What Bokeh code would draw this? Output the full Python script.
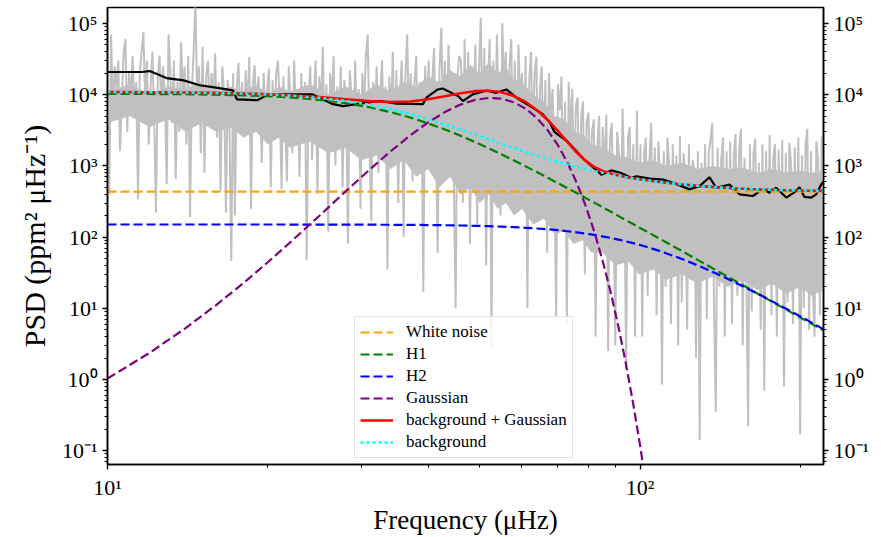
import numpy as np
from bokeh.plotting import figure
from bokeh.models import Range1d, LogAxis, FixedTicker, CustomJSTickFormatter
from bokeh.embed import file_html
from bokeh.resources import INLINE

# ---------------- data ----------------
model_freq = [10, 12, 14, 16, 18, 20, 22, 25, 28, 31, 34, 37, 40, 43, 46, 49, 52, 55, 58, 61,
              64, 67, 70, 73, 76, 79, 82, 85, 88, 91, 94, 97, 100, 103, 110, 120, 130, 140, 150,
              160, 170, 180, 190, 200, 210, 221]
white_level = 435.0
h1_psd = [10251, 10195, 10102, 9958, 9751, 9470, 9109, 8416, 7571, 6634, 5677, 4764, 3943, 3235,
          2642, 2155, 1761, 1443, 1187, 982, 817, 683, 575, 487, 414, 354, 304, 263, 228, 198,
          173, 152, 134, 119, 90.4, 63.3, 45.1, 33.1, 24.8, 18.9, 14.6, 11.5, 9.18, 7.40, 6.03, 4.87]
h2_psd = [150.0, 150.0, 150.0, 149.9, 149.9, 149.9, 149.8, 149.6, 149.4, 149.1, 148.6, 148.1, 147.3,
          146.3, 145.2, 143.7, 142.0, 139.9, 137.5, 134.8, 131.8, 128.4, 124.7, 120.6, 116.3, 111.8,
          107.1, 102.2, 97.2, 92.1, 87.1, 82.1, 77.2, 72.5, 62.0, 49.0, 38.4, 30.0, 23.5, 18.5, 14.7,
          11.7, 9.45, 7.67, 6.28, 5.08]
gauss_psd = [1.03, 2.37, 5.23, 11.1, 22.6, 44.3, 83.3, 199, 437, 873, 1596, 2665, 4068, 5676, 7238,
             8434, 8984, 8745, 7778, 6323, 4698, 3191, 1980, 1123, 582, 276, 120, 47.3, 17.1, 5.65,
             1.71, 0.47, 0.119, 0.027]

black_freq = [10.0, 11.6, 12.0, 12.9, 13.9, 14.9, 16.1, 17.2, 17.5, 19.1,
              19.9, 21.4, 24.3, 26.5, 27.7, 30.2, 32.5, 34.9, 39.1, 39.7,
              41.7, 42.6, 45.5, 46.5, 48.5, 51.5, 53.7, 56.1, 58.6, 62.0,
              65.6, 67.7, 69.1, 73.2, 78.7, 84.6, 88.3, 92.2, 96.3, 98.4,
              104.2, 110.4, 115.2, 123.8, 129.3, 135.0, 139.0, 147.2, 153.7, 162.8,
              170.0, 175.0, 180.1, 188.1, 196.4, 199.2, 203.5, 209.5, 214.1, 218.8,
              221.0]
black_psd = [20750, 20750, 21400, 17060, 15850, 13520, 12410, 11430, 8590, 8320,
             9750, 10070, 10070, 7330, 6870, 7570, 8130, 7470, 7330, 9040,
             11800, 12180, 9530, 8130, 10070, 11430, 10590, 11800, 9040, 6930,
             5330, 4040, 2970, 2160, 1210, 752, 861, 793, 676, 711,
             662, 641, 577, 467, 518, 690, 492, 547, 398, 377,
             467, 420, 492, 358, 442, 502, 366, 358, 398, 547,
             600]

# dense (solid-looking) core of the raw spectrum: lower and upper edge
core_freq = [10, 11, 12, 13, 14, 15, 16, 17, 18, 19, 20, 21, 22, 24, 26, 28, 30, 32, 34, 36,
             38, 40, 42, 44, 46, 48, 50, 52, 54, 56, 58, 60, 63, 66, 69, 72, 75, 78, 81, 85,
             90, 95, 100, 106, 112, 120, 128, 137, 146, 156, 166, 177, 188, 200, 210, 221]
core_low = [4e3, 5e3, 3.5e3, 4.5e3, 3e3, 4e3, 3e3, 3.5e3, 2.5e3, 3e3, 2e3, 2.5e3, 1.8e3, 2.2e3,
            1.5e3, 1.8e3, 1.2e3, 1.4e3, 9e2, 1.2e3, 7e2, 9e2, 5e2, 7e2, 4e2, 5e2, 3e2, 4e2, 2.5e2,
            3e2, 2e2, 2.5e2, 1.5e2, 1.8e2, 1.1e2, 1.2e2, 80, 90, 60, 60, 40, 45, 30, 35, 25, 30, 22,
            28, 20, 25, 18, 22, 16, 20, 15, 18]
core_high = [1.1e4, 1.4e4, 1e4, 1.3e4, 1.2e4, 1.5e4, 1e4, 1.3e4, 1.1e4, 1.4e4, 1e4, 1.3e4, 1.1e4,
             1.4e4, 1e4, 1.3e4, 1e4, 1.4e4, 1.1e4, 1.5e4, 1.3e4, 1.8e4, 1.5e4, 2.2e4, 1.8e4, 2.6e4,
             2e4, 2.8e4, 2e4, 2.4e4, 1.6e4, 1.5e4, 1e4, 8e3, 5e3, 4.5e3, 3e3, 2.8e3, 2e3, 1.8e3,
             1.4e3, 1.3e3, 1.1e3, 1.2e3, 1e3, 1.1e3, 9e2, 1e3, 9e2, 9.5e2, 8e2, 9e2, 8e2, 8.5e2,
             8e2, 8.5e2]

gray_psd = [
    3e4, 4e2, 7e4, 5e3, 2.5e4, 1.2e4, 3e4, 1.6e3, 9e3, 4e4,
    6e4, 3e3, 2e4, 8e3, 3.5e4, 6e3, 1.5e4, 3.4e2, 2e4, 4e4,
    7.5e4, 8e3, 3e4, 2e3, 1.2e4, 4e4, 5e3, 2.2e2, 1.8e4, 3.5e4,
    6e3, 2.5e4, 1e4, 5.5e2, 7e4, 2e4, 4e3, 3e4, 6.5e2, 1.5e4,
    3e3, 5.5e4, 1e4, 2.5e4, 2e3, 3.5e4, 1.9e2, 1.2e4, 4e4, 2e5,
    8e3, 2.5e4, 1.5e3, 4.7e4, 8e2, 1.8e4, 3e4, 5e3, 2e4, 7e3,
    3.8e4, 2.5e3, 1.5e4, 4.5e2, 2.5e4, 9e3, 2.2e2, 1.6e4, 3e3, 46,
    2e4, 2e2, 1.2e4, 2.8e4, 4e3, 1.5e4, 2.5e3, 2.2e4, 6e3, 3.4e4,
    2.5e2, 1.4e4, 2.6e4, 3e3, 1.8e4, 8e3, 1.1e3, 2e4, 5e3, 1.2e4,
    2.3e4, 5e2, 1.6e4, 3e3, 2e4, 3e4, 7e3, 4.7e2, 1.8e4,
    4e3, 6e2, 2.5e4, 8e3, 1.5e3, 3e4, 5e3, 1.2e4, 7e2, 2e4,
    3e3, 1.5e4, 48, 9e3, 2.5e4, 1.2e3, 1e4, 3e4, 4e2, 1.8e4,
    6e3, 4.7e4, 2e3, 1.4e4, 1.2e2, 2e4, 8e3, 3.5e4, 1e3, 1.3e4,
    3e3, 2.5e4, 5e2, 1.6e4, 6e3, 81, 2.2e4, 9e3, 1.5e3, 3e4,
    4e3, 1.2e4, 2.5e2, 2e4, 7e3, 3.5e4, 7e4, 2e3, 1.7e2, 1.5e4,
    4e3, 2.5e4, 8e2, 1e4, 3e4, 2e3, 1.3e4, 35, 1.8e4, 5e3,
    4e4, 1.2e3, 2.2e4, 3e2, 1.1e4, 3e4, 1e2, 1.8e4, 7e4, 4e3,
    2e4, 6e2, 1.4e4, 3.5e4, 2.5e3, 1.5e4, 6e3, 17, 2.5e4, 4e3,
    3e4, 9e2, 1.6e4, 4.5e4, 2e3, 60, 2.2e4, 8.7e4, 5e3, 3e4,
    1.5e3, 5e4, 8e3, 2e4, 6e2, 10, 1.8e4, 3.5e4,
    3e4, 3e2, 6e4, 2e3, 4e4, 80, 2.5e4, 7e3, 5e4, 1.5e2,
    2e4, 1.2e5, 3e3, 4.5e4, 40, 1.5e4, 6e4, 2.8, 3e4, 1e3,
    7e4, 5e3, 2e2, 1e5, 1.2e4, 4e4, 5e2, 2.5e4, 6e4, 1.5e3,
    3e4, 3e2, 5e4, 8e3, 2e4, 6e2, 3.5e4, 10, 1.5e4, 4e4,
    2e3, 2e4, 3.4e4, 4e2, 1.2e4, 2.5e4, 1e3, 1.6e4, 60, 2e4,
    5e3, 1.2e4, 1.5e3, 7, 1.4e4, 6e3, 1.8e4, 2e2, 8e3, 6,
    1.5e4, 3e3, 1.2e4, 4e2, 7e3, 9e3, 1.5e2, 5e3, 8e3, 30,
    4e3, 5.6e3, 6e2, 3e3, 4.5e3, 4, 2e3, 5e3, 1e2, 3.5e3,
    8e2, 5.2e3, 2.5, 2.5e3, 4e3, 2e2, 3, 3e3, 1.5e3, 50,
    6.3e3, 7e2, 1.4, 2.5e3, 3.5e3, 1.2e2, 2e3, 4,
    6e3, 30, 2e3, 4, 1.5e3, 2.5e3, 15, 1.2e3, 4e3, 40,
    1.8e3, 8, 2.2e3, 6e2, 0.85, 1.6e3, 20, 2.5e3, 1e3, 6,
    2e3, 50, 1.4e3, 3, 2.6e3, 12, 1.5e3, 8e2, 5, 2e3,
    25, 1.2e3, 9e2, 2, 1.6e3, 0.14, 1.1e3, 30, 2e3, 7,
    1.5e3, 2.3e3, 4e3, 10, 0.35, 1.8e3, 20, 1.2e3, 2.5e3, 4,
    1.6e3, 45, 2.2e3, 6, 1.4e3, 2.8e3, 15, 1.7e3, 3.3e3, 3,
    1.3e3, 35, 0.22, 2e3, 9, 1.5e3, 2.4e3, 18, 1.1e3, 5,
    2e3, 0.7, 1.6e3, 25, 2.7e3, 8, 1.3e3, 2e3, 4, 1.7e3,
    40, 2.3e3, 0.8, 1.5e3, 12, 2.1e3, 1e3, 6, 1.8e3, 30,
    2.5e3, 0.17, 1.4e3, 10, 2e3, 3.3e3, 5, 1.6e3, 20, 4,
    2.2e3, 1.2e3, 8, 2.6e3, 1.5e3,
]

y_major = [1e-1, 1e0, 1e1, 1e2, 1e3, 1e4, 1e5]
y_tick_labels = ["10\u207b\u00b9", "10\u2070", "10\u00b9", "10\u00b2", "10\u00b3", "10\u2074", "10\u2075"]
x_major = [10.0, 100.0]
x_tick_labels = ["10\u00b9", "10\u00b2"]
x_minor = [20, 30, 40, 50, 60, 70, 80, 90, 200]
y_minor = [m * 10.0 ** e for e in range(-2, 6) for m in range(2, 10)]

# ---------------- derived ----------------
f_model = np.array(model_freq, dtype=float)
white = np.full(len(f_model), white_level)
h1 = np.array(h1_psd)
h2 = np.array(h2_psd)
gauss_full = np.zeros(len(f_model))
gauss_full[:len(gauss_psd)] = gauss_psd
background = white + h1 + h2
total = background + gauss_full
gray_freq = np.geomspace(10, 221, len(gray_psd))

FONT = "Liberation Serif"
GRAY = "#c0c0c0"

p = figure(width=881, height=537, x_axis_type="log", y_axis_type="log",
           x_range=Range1d(10, 221), y_range=Range1d(0.064, 1.67e5),
           output_backend="svg", toolbar_location=None,
           min_border_left=107, min_border_right=58, min_border_top=7, min_border_bottom=70)

p.xgrid.visible = False
p.ygrid.visible = False
p.outline_line_color = "black"
p.outline_line_width = 1.5
p.outline_line_alpha = 1.0
p.background_fill_color = "white"
p.border_fill_color = "white"

p.varea(x=core_freq, y1=core_low, y2=core_high, fill_color=GRAY, fill_alpha=1.0)
p.line(gray_freq, gray_psd, line_color=GRAY, line_width=2)
p.line(black_freq, black_psd, line_color="black", line_width=2.2)
p.line(f_model, white, line_color="orange", line_width=2.2, line_dash="9 4", legend_label="White noise")
p.line(f_model, h1, line_color="green", line_width=2.2, line_dash="9 4", legend_label="H1")
p.line(f_model, h2, line_color="blue", line_width=2.2, line_dash="9 4", legend_label="H2")
p.line(f_model[:len(gauss_psd)], gauss_psd, line_color="purple", line_width=2.2, line_dash="9 4",
       legend_label="Gaussian")
p.line(f_model, total, line_color="red", line_width=2.6, legend_label="background + Gaussian")
p.line(f_model, background, line_color="cyan", line_width=2.6, line_dash="3 3", legend_label="background")

y_ticker = FixedTicker(ticks=y_major, minor_ticks=y_minor)
x_ticker = FixedTicker(ticks=x_major, minor_ticks=x_minor)
fmt_code = """
let best = -1;
for (let i = 0; i < tvals.length; i++) {
  if (Math.abs(Math.log10(tvals[i]) - Math.log10(tick)) < 1e-6) { best = i; }
}
return best >= 0 ? tlabels[best] : "";
"""
y_fmt = CustomJSTickFormatter(args=dict(tvals=y_major, tlabels=y_tick_labels), code=fmt_code)
x_fmt = CustomJSTickFormatter(args=dict(tvals=x_major, tlabels=x_tick_labels), code=fmt_code)

p.xaxis.ticker = x_ticker
p.xaxis.formatter = x_fmt
p.yaxis.ticker = y_ticker
p.yaxis.formatter = y_fmt

raxis = LogAxis(ticker=y_ticker, formatter=y_fmt)
p.add_layout(raxis, "right")

for ax in [p.xaxis[0], p.yaxis[0], raxis]:
    ax.axis_line_width = 1.6
    ax.axis_line_color = "black"
    ax.major_tick_line_width = 1.3
    ax.minor_tick_line_width = 1.0
    ax.major_tick_line_color = "black"
    ax.minor_tick_line_color = "black"
    ax.major_tick_out = 5
    ax.major_tick_in = 0
    ax.minor_tick_out = 3
    ax.minor_tick_in = 0
    ax.major_label_text_font = FONT
    ax.major_label_text_font_size = "22px"
    ax.major_label_text_color = "black"
    ax.major_label_standoff = 5

p.xaxis.axis_label = "Frequency (\u03bcHz)"
p.yaxis[0].axis_label = "PSD (ppm\u00b2 \u03bcHz\u207b\u00b9)"
for ax in [p.xaxis[0], p.yaxis[0]]:
    ax.axis_label_text_font = FONT
    ax.axis_label_text_font_style = "normal"
    ax.axis_label_text_color = "black"
p.xaxis.axis_label_text_font_size = "27px"
p.yaxis[0].axis_label_text_font_size = "30px"
p.xaxis.axis_label_standoff = 2
p.yaxis[0].axis_label_standoff = 8

lg = p.legend[0]
lg.location = (247, 6)
lg.margin = 0
lg.padding = 5
lg.spacing = 2
lg.glyph_width = 33
lg.glyph_height = 20
lg.label_height = 20
lg.label_standoff = 13
lg.label_text_font = FONT
lg.label_text_font_size = "17px"
lg.label_text_color = "black"
lg.border_line_color = "#cccccc"
lg.border_line_width = 1
lg.background_fill_alpha = 0.8

with open("out.html", "w", encoding="utf-8") as fh:
    fh.write(file_html(p, INLINE))
